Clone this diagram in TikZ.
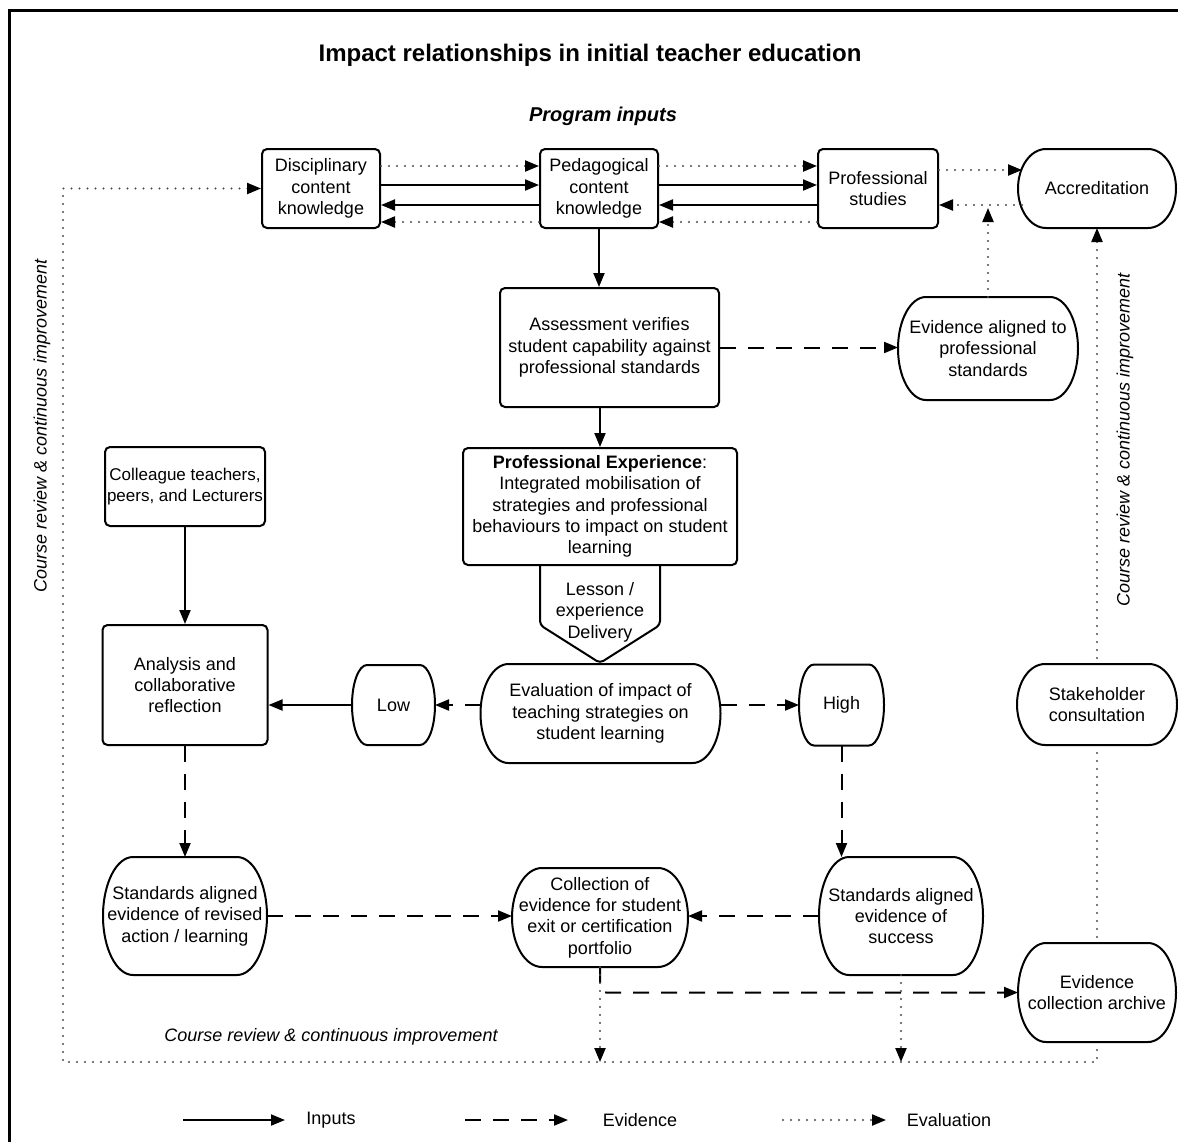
\documentclass[tikz,border=0pt]{standalone}
\usepackage{fontspec}
\setmainfont{Liberation Sans}
\usetikzlibrary{arrows.meta,calc}
\newcommand\termline[3]{\draw[line width=1pt] ([xshift=#2]#1.north west) -- ([xshift=-#2]#1.north east) arc[start angle=90,end angle=-90,x radius=#2,y radius=#3] -- ([xshift=#2]#1.south west) arc[start angle=270,end angle=90,x radius=#2,y radius=#3] -- cycle;}
\begin{document}
\begin{tikzpicture}[x=0.5pt,y=-0.5pt,
  txt/.style={font=\fontsize{9}{10.7}\selectfont, align=center, inner sep=0pt},
  boxn/.style={txt, draw, line width=1pt, rounded corners=2.5pt},
  termn/.style={txt, outer sep=0pt},
  tipA/.style={-{Triangle[length=7pt,width=5.5pt]}},
  inp/.style={line width=1pt, tipA},
  evid/.style={line width=1pt, dash pattern=on 8pt off 6pt, tipA},
  evalu/.style={line width=1.1pt, draw=black!70, dash pattern=on 0pt off 4pt, line cap=round, -{Triangle[length=7pt,width=5.5pt,color=black]}},
  evalnt/.style={line width=1.1pt, draw=black!70, dash pattern=on 0pt off 4pt, line cap=round},
]
\useasboundingbox (0,0) rectangle (1178,1142);
\fill[white] (0,0) rectangle (1178,1142);
\draw[line width=1.5pt] (9,1142) -- (9,10) -- (1178,10);

% titles
\node[font=\bfseries\fontsize{12}{14}\selectfont] (title) at (590,55) {Impact relationships in initial teacher education};
\node[font=\bfseries\itshape\fontsize{10}{12}\selectfont] (pin) at (603,116) {Program inputs};

% top row
\node[boxn, minimum width=59pt, minimum height=39.5pt] (DCK) at (321,188.5) {Disciplinary\\content\\knowledge};
\node[boxn, minimum width=59pt, minimum height=39.5pt] (PCK) at (599,188.5) {Pedagogical\\content\\knowledge};
\node[boxn, minimum width=60pt, minimum height=39.5pt] (PS) at (878,188.5) {Professional\\studies};
\node[termn, minimum width=79pt, minimum height=39.5pt] (ACC) at (1097,188.5) {Accreditation};
\termline{ACC}{14pt}{19.75pt}

% middle
\node[boxn, minimum width=109.5pt, minimum height=59.5pt] (ASS) at (609.5,347.5) {Assessment verifies\\student capability against\\professional standards};
\node[termn, minimum width=90pt, minimum height=51.5pt] (EVA) at (988,348.5) {Evidence aligned to\\professional\\standards};
\termline{EVA}{14pt}{25.75pt}
\node[boxn, minimum width=137pt, minimum height=58.5pt] (PE) at (600,506.5) {\textbf{Professional Experience}:\\Integrated mobilisation of\\strategies and professional\\behaviours to impact on student\\learning};
\draw[line width=1pt, rounded corners=2pt] (540,565) -- (540,625) -- (600,663) -- (660,625) -- (660,565);
\node[txt] (LES) at (600,612) {Lesson /\\experience\\Delivery};
\node[termn, minimum width=120pt, minimum height=49.5pt] (EVAL) at (600.5,713.5) {Evaluation of impact of\\teaching strategies on\\student learning};
\termline{EVAL}{14pt}{24.75pt}
\node[termn, minimum width=41.5pt, minimum height=40pt] (LOW) at (393.5,705) {Low};
\termline{LOW}{7.5pt}{20pt}
\node[termn, minimum width=42.5pt, minimum height=40.5pt] (HIGH) at (841.5,705) {High};
\termline{HIGH}{7.5pt}{20.25pt}
\node[termn, minimum width=80pt, minimum height=40.5pt] (STK) at (1097,704.5) {Stakeholder\\consultation};
\termline{STK}{14pt}{20.25pt}
\node[boxn, font=\fontsize{8.5}{10.7}\selectfont, minimum width=80pt, minimum height=39.5pt] (CTP) at (185,486.5) {Colleague teachers,\\peers, and Lecturers};
\node[boxn, minimum width=82.5pt, minimum height=60pt] (ACR) at (185,685) {Analysis and\\collaborative\\reflection};

% bottom
\node[termn, minimum width=82pt, minimum height=59pt] (SAR) at (185,916) {Standards aligned\\evidence of revised\\action / learning};
\termline{SAR}{15pt}{29.5pt}
\node[termn, minimum width=88pt, minimum height=49.5pt] (COL) at (600,917.5) {Collection of\\evidence for student\\exit or certification\\portfolio};
\termline{COL}{15pt}{24.75pt}
\node[termn, minimum width=82pt, minimum height=59pt] (SAS) at (901,916) {Standards aligned\\evidence of\\success};
\termline{SAS}{15pt}{29.5pt}
\node[termn, minimum width=79pt, minimum height=49.5pt] (ARC) at (1097,992.5) {Evidence\\collection archive};
\termline{ARC}{14pt}{24.75pt}

% side labels
\node[font=\itshape\fontsize{9}{11}\selectfont, rotate=90] (crl) at (42,426) {Course review \& continuous improvement};
\node[font=\itshape\fontsize{9}{11}\selectfont, rotate=90] (crr) at (1125,440) {Course review \& continuous improvement};
\node[font=\itshape\fontsize{9}{11}\selectfont] (crb) at (331,1037) {Course review \& continuous improvement};

% top row connectors
\coordinate (accw) at ([xshift=2pt]ACC.west);
\draw[evalu] (DCK.east |- 0,166) -- (PCK.west |- 0,166);
\draw[inp] (DCK.east |- 0,185) -- (PCK.west |- 0,185);
\draw[inp] (PCK.west |- 0,205) -- (DCK.east |- 0,205);
\draw[evalu] (PCK.west |- 0,222) -- (DCK.east |- 0,222);
\draw[evalu] (PCK.east |- 0,166) -- (PS.west |- 0,166);
\draw[inp] (PCK.east |- 0,185) -- (PS.west |- 0,185);
\draw[inp] (PS.west |- 0,205) -- (PCK.east |- 0,205);
\draw[evalu] (PS.west |- 0,222) -- (PCK.east |- 0,222);
\draw[evalu] (PS.east |- 0,170) -- (accw |- 0,170);
\draw[evalu] (accw |- 0,205) -- (PS.east |- 0,205);

% vertical flow
\draw[inp] (PCK.south) -- (PCK.south |- ASS.north);
\draw[evid] (ASS.east) -- (ASS.east -| EVA.west);
\coordinate (evup) at (988,208);
\draw[evalu] (EVA.north) -- (evup);
\draw[inp] (PE.north |- ASS.south) -- (PE.north);
\draw[evid] (EVAL.west |- LOW.east) -- (LOW.east);
\draw[evid] (EVAL.east |- HIGH.west) -- (HIGH.west);
\draw[inp] (LOW.west) -- (ACR.east |- LOW.west);
\draw[inp] (CTP.south) -- (ACR.north);
\draw[evid] (ACR.south) -- (SAR.north);
\draw[evid] (HIGH.south) -- (HIGH.south |- SAS.north);
\draw[evid] (SAR.east) -- (SAR.east -| COL.west);
\draw[evid] (SAS.west) -- (SAS.west -| COL.east);
\draw[evid, rounded corners=3pt] (COL.south) |- (ARC.west);

% evaluation loop
\coordinate (br) at (1097,1062);
\coordinate (bl) at (63,1062);
\draw[evalu] (COL.south) -- (COL.south |- br);
\draw[evalu] (SAS.south) -- (SAS.south |- br);
\draw[evalu, shorten <=4pt] (ARC.south) -- (br) -- (bl) -- (bl |- DCK.west) -- (DCK.west);
\draw[evalnt, shorten <=3pt, shorten >=3pt] (ARC.north) -- (STK.south);
\draw[evalu, shorten <=3pt] (STK.north) -- (ACC.south);

% legend
\coordinate (l1a) at (183,1120); \coordinate (l1b) at (285,1120);
\coordinate (l2a) at (465,1120); \coordinate (l2b) at (568,1120);
\coordinate (l3a) at (783,1120); \coordinate (l3b) at (886,1120);
\draw[inp] (l1a) -- (l1b);
\draw[evid] (l2a) -- (l2b);
\draw[evalu] (l3a) -- (l3b);
\node[txt] (lg1) at (331,1120) {Inputs};
\node[txt] (lg2) at (640,1120) {Evidence};
\node[txt] (lg3) at (949,1120) {Evaluation};
\end{tikzpicture}
\end{document}
